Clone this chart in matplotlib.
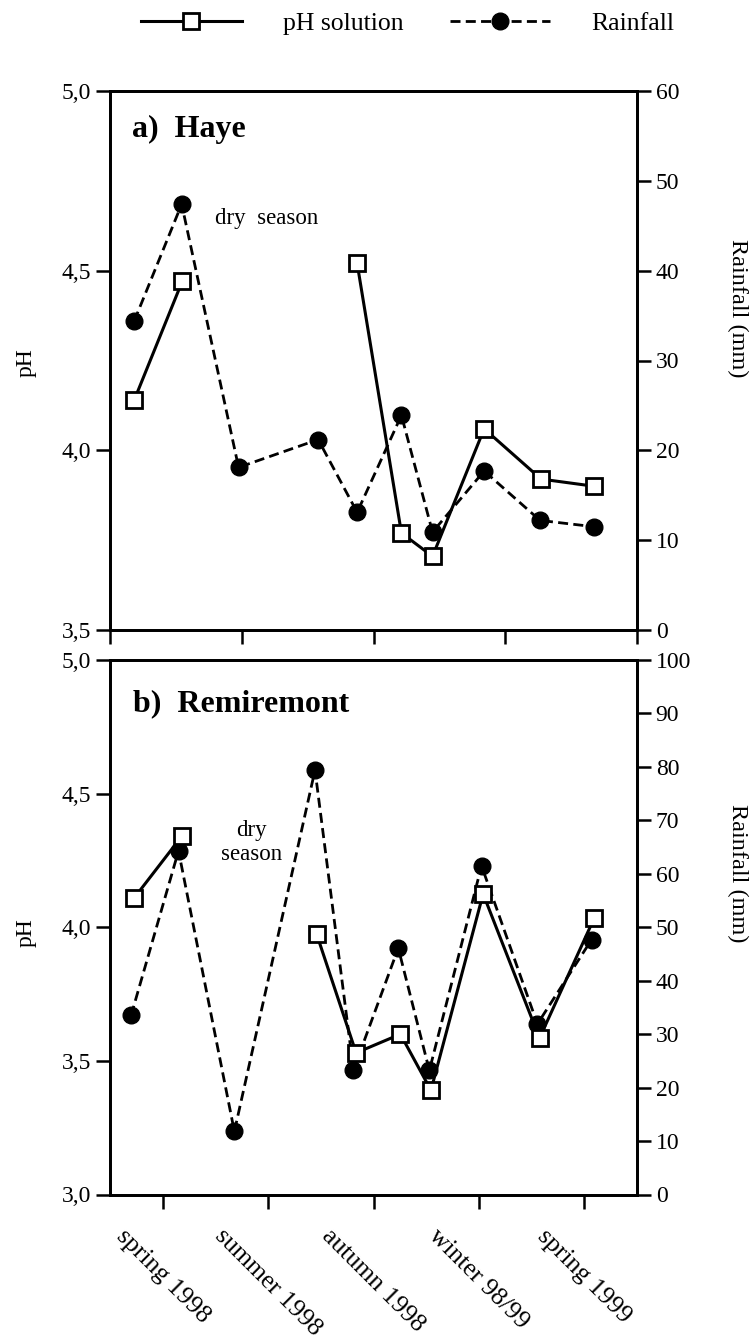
import numpy as np
import matplotlib
matplotlib.use("Agg")
import matplotlib.pyplot as plt
from matplotlib.ticker import FuncFormatter

plt.rcParams["font.family"] = ["Liberation Serif", "DejaVu Serif"]

# seasons on the bottom axis (tick positions are bin centres)
seasons = ["spring 1998", "summer 1998", "autumn 1998", "winter 98/99", "spring 1999"]
season_pos = [1, 3, 5, 7, 9]

# a) Haye
haye_x_ph = [0.46, 1.37, 2.44, 3.95, 4.69, 5.53, 6.12, 7.10, 8.18, 9.19]
haye_ph = [4.14, 4.47, np.nan, np.nan, 4.52, 3.77, 3.705, 4.06, 3.92, 3.90]
haye_x_rain = [0.46, 1.36, 2.44, 3.95, 4.69, 5.53, 6.12, 7.10, 8.16, 9.18]
haye_rain = [34.4, 47.4, 18.1, 21.2, 13.1, 23.9, 10.9, 17.7, 12.2, 11.5]

# b) Remiremont
remi_x_ph = [0.46, 1.36, 2.36, 3.92, 4.67, 5.51, 6.09, 7.08, 8.15, 9.19]
remi_ph = [4.11, 4.34, np.nan, 3.975, 3.53, 3.60, 3.39, 4.125, 3.585, 4.035]
remi_x_rain = [0.40, 1.30, 2.36, 3.89, 4.62, 5.47, 6.06, 7.05, 8.11, 9.14]
remi_rain = [33.5, 64.3, 11.8, 79.4, 23.3, 46.1, 23.2, 61.5, 31.9, 47.7]

W, H = 752, 1342
fig = plt.figure(figsize=(W / 100, H / 100), dpi=100)

LW_SPINE = 2.0
TICK_KW = dict(direction="out", length=10, width=1.8, labelsize=17)
comma = FuncFormatter(lambda v, p: f"{v:.1f}".replace(".", ","))


def ax_rect(left_px, top_px, right_px, bottom_px):
    return [left_px / W, 1 - bottom_px / H, (right_px - left_px) / W, (bottom_px - top_px) / H]


def panel(rect, x_ph, ph, x_rain, rain, ph_lim, ph_ticks, rain_lim, rain_ticks):
    ax = fig.add_axes(rect)
    ax2 = ax.twinx()
    # pH drawn above rainfall
    ax.set_zorder(ax2.get_zorder() + 1)
    ax.patch.set_visible(False)

    l_rain, = ax2.plot(x_rain, rain, color="black", lw=2.0, ls=(0, (3.6, 1.9)),
                       marker="o", ms=12, mfc="black", mec="black")
    l_ph, = ax.plot(x_ph, ph, color="black", lw=2.2, ls="-",
                    marker="s", ms=12, mfc="white", mec="black", mew=2.0)

    ax.set_xlim(0, 10)
    ax.set_ylim(*ph_lim)
    ax.set_yticks(ph_ticks)
    ax.yaxis.set_major_formatter(comma)
    ax2.set_ylim(*rain_lim)
    ax2.set_yticks(rain_ticks)

    for a in (ax, ax2):
        for s in a.spines.values():
            s.set_linewidth(LW_SPINE)
        a.tick_params(**TICK_KW)
    return ax, ax2, l_ph, l_rain


# top panel
ax_a, ax_a2, l_ph, l_rain = panel(ax_rect(110, 91, 637, 630),
                                  haye_x_ph, haye_ph, haye_x_rain, haye_rain,
                                  (3.5, 5.0), [3.5, 4.0, 4.5, 5.0],
                                  (0, 60), range(0, 61, 10))
ax_a.set_xticks([0, 2.5, 5, 7.5, 10])
ax_a.set_xticklabels([])
ax_a.text(0.042, 0.915, "a)  Haye", transform=ax_a.transAxes,
          fontsize=23, fontweight="bold", ha="left", va="baseline")
ax_a.text(0.199, 0.764, "dry  season", transform=ax_a.transAxes,
          fontsize=16.5, ha="left", va="center")

# bottom panel
ax_b, ax_b2, _, _ = panel(ax_rect(110, 660, 637, 1194.5),
                          remi_x_ph, remi_ph, remi_x_rain, remi_rain,
                          (3.0, 5.0), [3.0, 3.5, 4.0, 4.5, 5.0],
                          (0, 100), range(0, 101, 10))
ax_b.set_xticks(season_pos)
ax_b.set_xticklabels(seasons, rotation=-45, ha="center", va="top", fontsize=18.5)
ax_b.tick_params(axis="x", pad=12)
ax_b.text(0.044, 0.905, "b)  Remiremont", transform=ax_b.transAxes,
          fontsize=23, fontweight="bold", ha="left", va="baseline")
ax_b.text(0.269, 0.658, "dry\nseason", transform=ax_b.transAxes,
          fontsize=16.5, ha="center", va="center", linespacing=1.2)

# axis titles
for ycen_ph, ycen_rain in [(363, 308), (933, 873)]:
    fig.text(26 / W, 1 - ycen_ph / H, "pH", rotation=90, fontsize=17,
             ha="center", va="center")
    fig.text(738 / W, 1 - ycen_rain / H, "Rainfall (mm)", rotation=-90, fontsize=17.5,
             ha="center", va="center")

fig.legend(handles=[l_ph, l_rain], labels=["pH solution", "Rainfall"],
           loc="upper center", bbox_to_anchor=(0.542, 1.008), ncol=2, frameon=False,
           fontsize=18.5, handlelength=3.9, handletextpad=1.6, columnspacing=1.8,
           numpoints=1)

fig.savefig("out.png", dpi=100)
